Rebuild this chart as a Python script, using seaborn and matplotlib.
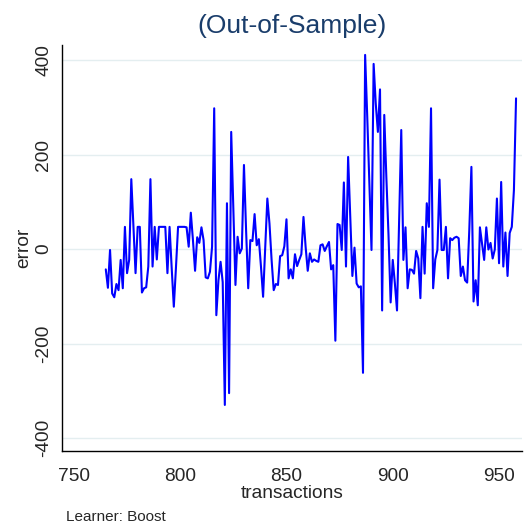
import numpy as np
import pandas as pd
import matplotlib
matplotlib.use("Agg")
import matplotlib.pyplot as plt
import seaborn as sns

# ---- data ----
start_x = 765
errors = [
    -43, -82, -2, -94, -102, -74, -87, -23, -83, 47,
    -51, -23, 148, 48, -51, 47, 47, -92, -83, -81,
    -37, 148, -37, 47, -22, 47, 47, 47, 47, -51,
    47, -40, -122, -40, 47, 47, 47, 47, 46, 5, 77,
    19, -46, 25, 13, 46, 19, -60, -62, -48, 5,
    298, -140, -66, -27, -70, -330, 97, -305, 248, 86,
    -76, 26, -9, 1, 178, 40, -83, 19, 17, 74,
    8, 21, -37, -101, 5, 107, 54, -23, -87, -74,
    -76, -15, -13, 6, 63, -62, -43, -62, -11, -36,
    -23, -11, 68, 5, -46, -9, -27, -22, -25, -27, 8,
    10, -4, 6, 15, -43, -34, -194, 53, 51, -2,
    141, -37, 195, 70, -57, 3, -73, -81, -79, -262,
    411, 280, 140, -2, 392, 308, 248, 338, -130, 284,
    150, 30, -113, -23, -73, -130, 60, 252, -23, 46,
    -83, -43, -44, -52, -4, -20, -104, 47, -52, 97,
    47, 298, -83, -22, -2, 147, -2, -2, 47, -62,
    23, 19, 24, 26, 23, -57, -37, -66, -71, 40, 174,
    -111, -66, -119, 46, 12, -23, 46, -1, 13, -20,
    -1, 107, -30, 142, -37, 35, -57, 34, 47, 125,
    319,
]
transactions = np.arange(start_x, start_x + len(errors))
xticks = [750, 800, 850, 900, 950]
yticks = [-400, -200, 0, 200, 400]
ytick_labels = ["-400", "-200", "0", "200", "400"]

df = pd.DataFrame({"transactions": transactions, "error": errors})

sns.set_style("white")
plt.rcParams["font.family"] = ["Liberation Sans", "DejaVu Sans"]

fig = plt.figure(figsize=(5.31, 5.31), dpi=100)
ax = fig.add_axes([62 / 531, 1 - 451 / 531, (522 - 62) / 531, (451 - 45) / 531])

for yv in yticks:
    ax.axhline(yv, color="#e4eef0", linewidth=1.0, zorder=0)

sns.lineplot(data=df, x="transactions", y="error", color="#0000ff",
             linewidth=1.5, ax=ax)

ax.set_xlim(744.4, 960.8)
ax.set_ylim(-427.5, 432)
ax.set_xticks(xticks)
ax.set_yticks(yticks)
ax.set_yticklabels(ytick_labels)
ax.tick_params(axis="both", direction="out", length=5, width=1,
               color="black", labelsize=13.8)
ax.tick_params(axis="x", pad=7.5)
ax.tick_params(axis="y", labelrotation=90, pad=2)
for lab in ax.get_yticklabels():
    lab.set_verticalalignment("center")

for side in ["top", "right"]:
    ax.spines[side].set_visible(False)
for side in ["left", "bottom"]:
    ax.spines[side].set_color("black")
    ax.spines[side].set_linewidth(1.0)

ax.set_xlabel("transactions", fontsize=13.8, labelpad=0)
ax.set_ylabel("error", fontsize=13.8, labelpad=2)
ax.set_title("(Out-of-Sample)", fontsize=19, color="#1a3d6b", pad=9)

fig.text(66 / 531, 1 - 517 / 531, "Learner: Boost", fontsize=11,
         ha="left", va="center")

fig.savefig("out.png", dpi=100, facecolor="white")
